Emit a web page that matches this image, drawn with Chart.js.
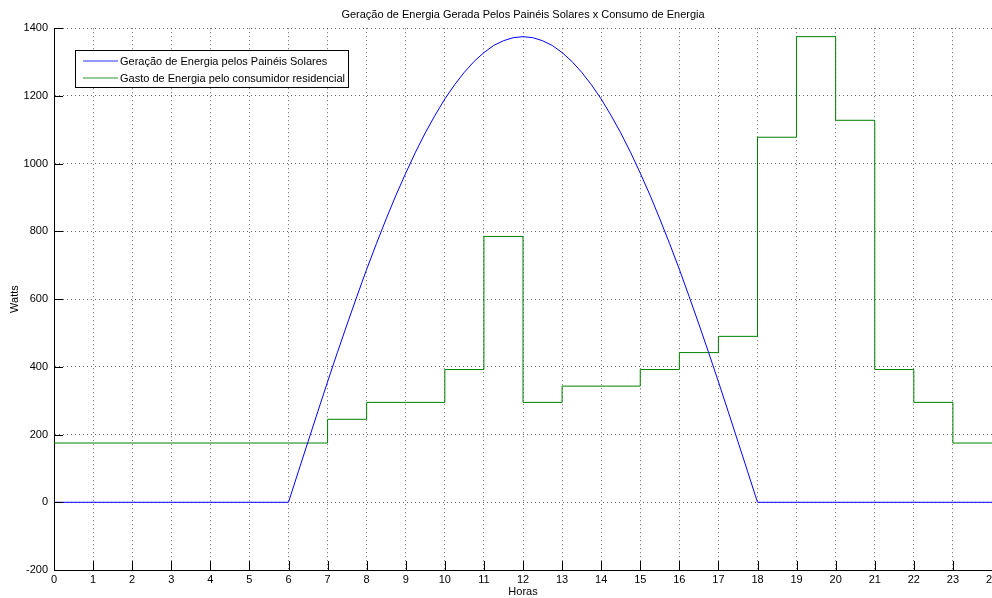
<!DOCTYPE html>
<html>
<head>
<meta charset="utf-8">
<script src="https://cdn.jsdelivr.net/npm/chart.js@4/dist/chart.umd.min.js"></script>
<style>
    html, body { margin: 0; padding: 0; background: #fff; }
    #wrap { width: 992px; height: 598px; }
</style>
</head>
<body>
<div id="wrap"><canvas id="energy-chart" width="992" height="598"></canvas></div>
<script>
const CHART_TITLE = "Geração de Energia Gerada Pelos Painéis Solares x Consumo de Energia";
const X_TITLE = "Horas";
const Y_TITLE = "Watts";
const SERIES_NAMES = [
    "Geração de Energia pelos Painéis Solares",
    "Gasto de Energia pelo consumidor residencial"
];

// geração solar (a cada 15 min entre 6h e 18h)
const genHours = [0,
    6, 6.25, 6.5, 6.75, 7, 7.25, 7.5, 7.75, 8, 8.25, 8.5, 8.75,
    9, 9.25, 9.5, 9.75, 10, 10.25, 10.5, 10.75, 11, 11.25, 11.5, 11.75,
    12, 12.25, 12.5, 12.75, 13, 13.25, 13.5, 13.75, 14, 14.25, 14.5, 14.75,
    15, 15.25, 15.5, 15.75, 16, 16.25, 16.5, 16.75, 17, 17.25, 17.5, 17.75,
    18, 24];
const genWatts = [0,
    0, 90, 179, 268, 356, 442, 526, 608, 688, 764, 837, 907,
    972, 1034, 1091, 1143, 1191, 1233, 1270, 1302, 1328, 1349, 1363, 1372,
    1375, 1372, 1363, 1349, 1328, 1302, 1270, 1233, 1191, 1143, 1091, 1034,
    972, 907, 837, 764, 688, 608, 526, 442, 356, 268, 179, 90,
    0, 0];

// consumo residencial, um valor por hora (degrau começa na hora indicada)
const useHours = [0, 1, 2, 3, 4, 5, 6, 7, 8, 9, 10, 11, 12, 13, 14, 15, 16, 17, 18, 19, 20, 21, 22, 23, 24];
const useWatts = [175, 175, 175, 175, 175, 175, 175, 245, 295, 295, 392, 785, 295, 343, 343,
    392, 442, 490, 1078, 1375, 1128, 392, 295, 175, 175];

const xTicks = { min: 0, max: 24, step: 1 };
const yTicks = { min: -200, max: 1400, step: 200 };

const FONT = "'Liberation Sans', Arial, Helvetica, sans-serif";

const toPoints = (xs, ys) => xs.map((x, i) => ({ x, y: ys[i] }));

// marcas de escala para dentro, estilo MATLAB
const inwardTicks = {
    id: "inwardTicks",
    afterDraw(chart) {
        const { ctx, chartArea, scales } = chart;
        const len = 9;
        ctx.save();
        ctx.strokeStyle = "#000";
        ctx.lineWidth = 1;
        ctx.beginPath();
        scales.x.ticks.forEach(t => {
            const px = Math.round(scales.x.getPixelForValue(t.value)) + 0.5;
            ctx.moveTo(px, chartArea.bottom);
            ctx.lineTo(px, chartArea.bottom - len);
        });
        scales.y.ticks.forEach(t => {
            const py = Math.round(scales.y.getPixelForValue(t.value)) + 0.5;
            ctx.moveTo(chartArea.left, py);
            ctx.lineTo(chartArea.left + len, py);
        });
        ctx.stroke();
        ctx.restore();
    }
};

// legenda em caixa dentro da área do gráfico
const boxLegend = {
    id: "boxLegend",
    afterDatasetsDraw(chart) {
        const { ctx, chartArea } = chart;
        const left = Math.round(chartArea.left + 21);
        const top = Math.round(chartArea.top + 22);
        const rowH = 17;
        ctx.save();
        ctx.font = "11px " + FONT;
        const widths = chart.data.datasets.map(ds => ctx.measureText(ds.label).width);
        const w = Math.round(Math.max(...widths) + 48);
        const h = rowH * chart.data.datasets.length + 3;
        ctx.fillStyle = "#fff";
        ctx.fillRect(left, top, w, h);
        ctx.strokeStyle = "#000";
        ctx.lineWidth = 1;
        ctx.strokeRect(left + 0.5, top + 0.5, w, h);
        chart.data.datasets.forEach((ds, i) => {
            const cy = top + 11 + i * rowH;
            ctx.strokeStyle = ds.borderColor;
            ctx.globalAlpha = 0.55;
            ctx.lineWidth = 1.6;
            ctx.beginPath();
            ctx.moveTo(left + 8, cy);
            ctx.lineTo(left + 43, cy);
            ctx.stroke();
            ctx.globalAlpha = 1;
            ctx.fillStyle = "#000";
            ctx.textBaseline = "middle";
            ctx.textAlign = "left";
            ctx.fillText(ds.label, left + 45, cy + 0.5);
        });
        ctx.restore();
    }
};

const gridStyle = {
    color: "rgba(0, 0, 0, 0.6)",
    lineWidth: 1,
    drawTicks: false
};

new Chart(document.getElementById("energy-chart"), {
    type: "line",
    data: {
        datasets: [{
            label: SERIES_NAMES[0],
            data: toPoints(genHours, genWatts),
            borderColor: "#0000ff",
            borderWidth: 1,
            pointRadius: 0,
            tension: 0,
            fill: false
        }, {
            label: SERIES_NAMES[1],
            data: toPoints(useHours, useWatts),
            borderColor: "#008000",
            borderWidth: 1,
            pointRadius: 0,
            stepped: "before",
            fill: false
        }]
    },
    options: {
        responsive: false,
        animation: false,
        events: [],
        layout: { padding: 0 },
        plugins: {
            legend: { display: false },
            tooltip: { enabled: false },
            title: {
                display: true,
                text: CHART_TITLE,
                fullSize: false,
                color: "#000",
                font: { family: FONT, size: 11, weight: "normal" },
                padding: { top: 8, bottom: 7 }
            }
        },
        scales: {
            x: {
                type: "linear",
                min: xTicks.min,
                max: xTicks.max,
                grid: gridStyle,
                border: { display: true, color: "#000", width: 1, dash: [1, 3] },
                ticks: {
                    stepSize: xTicks.step,
                    autoSkip: false,
                    maxRotation: 0,
                    color: "#000",
                    padding: 3,
                    font: { family: FONT, size: 11 },
                    callback: value => String(value)
                },
                title: {
                    display: true,
                    text: X_TITLE,
                    color: "#000",
                    font: { family: FONT, size: 11 },
                    padding: { top: 0, bottom: -1 }
                },
                afterFit(scale) {
                    scale.height = 28;
                    scale.paddingLeft = 0;
                    scale.paddingRight = 0;
                }
            },
            y: {
                type: "linear",
                min: yTicks.min,
                max: yTicks.max,
                grid: gridStyle,
                border: { display: true, color: "#000", width: 1, dash: [1, 3] },
                ticks: {
                    stepSize: yTicks.step,
                    color: "#000",
                    padding: 6,
                    font: { family: FONT, size: 11 },
                    callback: value => String(value)
                },
                title: {
                    display: true,
                    text: Y_TITLE,
                    color: "#000",
                    font: { family: FONT, size: 11 },
                    padding: { top: 8, bottom: 0 }
                },
                afterFit(scale) {
                    scale.width = 54;
                    scale.paddingTop = 0;
                    scale.paddingBottom = 0;
                }
            }
        }
    },
    plugins: [inwardTicks, boxLegend]
});
</script>
</body>
</html>
